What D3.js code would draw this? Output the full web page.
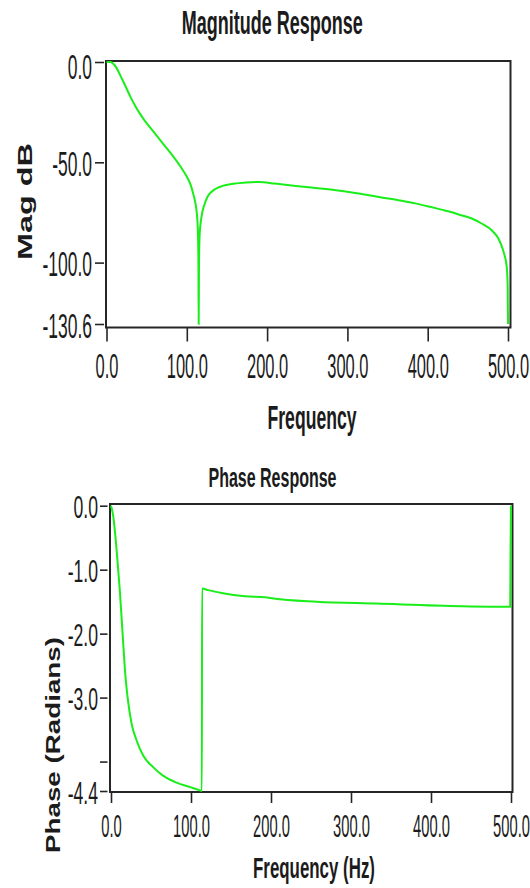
<!DOCTYPE html>
<html>
<head>
<meta charset="utf-8">
<script src="https://cdn.jsdelivr.net/npm/d3@7"></script>
<style>
body { margin: 0; background: #fff; }
text { font-family: "Liberation Sans", Arial, sans-serif; fill: #1b1b1b; }
</style>
</head>
<body>
<div id="chart"></div>
<script>
// magnitude response (Hz / dB)
var magFreq = [0, 5, 10, 20, 30, 36, 42, 48, 55, 62, 72, 83, 92, 99, 105, 108, 111, 112.6, 113.8, 114.5, 114.8, 115.2, 116, 118, 122,
    126, 130.5, 141, 162, 190, 209.5, 255, 288, 317.6, 342.5, 365, 386, 403, 417, 430, 442, 455, 467, 480, 488, 494, 498.4, 499.6, 500];
var magDb = [0, 0, -1.5, -9, -17.5, -22, -26, -29.5, -33, -36.5, -41.5, -47, -52, -56.5, -61.5, -65.7, -71, -76, -84, -100, -130.6,
    -100, -86, -78, -71, -67, -64.8, -62.3, -60.5, -59.8, -60.6, -62.6, -64, -65.8, -67.5, -69, -70.6, -72.2, -73.6, -74.9, -76.4, -78,
    -80.5, -84, -88, -94, -102, -112, -130.6];
var magTicks = [0, -50, -100, -130.6];
var magTickLabels = ['0.0', '-50.0', '-100.0', '-130.6'];

// phase response (Hz / radians)
var phaseFreq = [0, 2.9, 7, 11, 15, 17.5, 20.8, 25.8, 32, 40.4, 53, 65, 82, 98.8, 111, 113.6, 113.8, 121.6, 140, 167.5, 192.5,
    203, 257, 332, 438, 499, 499.4, 500];
var phaseRad = [0, -0.17, -0.69, -1.32, -2.1, -2.58, -3.0, -3.41, -3.67, -3.91, -4.09, -4.22, -4.33, -4.40, -4.45, -4.46, -1.295,
    -1.32, -1.37, -1.415, -1.43, -1.45, -1.50, -1.53, -1.57, -1.58, -0.77, 0];
var phaseTicks = [0, -1, -2, -3, -4, -4.46];
var phaseTickLabels = ['0.0', '-1.0', '-2.0', '-3.0', '', '-4.4'];

var freqTicks = [0, 100, 200, 300, 400, 500];
var freqTickLabels = ['0.0', '100.0', '200.0', '300.0', '400.0', '500.0'];

var svg = d3.select('#chart')
    .append('svg')
    .attr('width', 530)
    .attr('height', 888);

function drawPlot(o) {
    var x = d3.scaleLinear().domain([0, 500]).range(o.xRange);
    var y = d3.scaleLinear().domain(o.yDomain).range(o.yRange);
    var f = o.frame;

    svg.append('rect')
        .attr('x', f[0]).attr('y', f[1])
        .attr('width', f[2] - f[0]).attr('height', f[3] - f[1])
        .attr('fill', 'none')
        .attr('stroke', '#262626')
        .attr('stroke-width', 2);

    // x axis
    var xAxis = svg.append('g')
        .attr('transform', `translate(0, ${f[3]})`)
        .call(d3.axisBottom(x).tickValues(freqTicks).tickFormat((d, i) => freqTickLabels[i]).tickSize(o.xTick));
    xAxis.select('.domain').remove();
    xAxis.selectAll('line').attr('stroke', '#262626').attr('stroke-width', 1.6);
    xAxis.selectAll('text')
        .attr('y', null).attr('dy', null)
        .attr('transform', `translate(0, ${o.xLabelY}) scale(${o.xK}, 1)`)
        .style('font-size', o.font + 'px');

    // y axis
    var yAxis = svg.append('g')
        .attr('transform', `translate(${o.yAxisX}, 0)`)
        .call(d3.axisLeft(y).tickValues(o.ticks).tickFormat((d, i) => o.tickLabels[i]).tickSize(o.yTick));
    yAxis.select('.domain').remove();
    yAxis.selectAll('line').attr('stroke', '#262626').attr('stroke-width', 1.6);
    yAxis.selectAll('text')
        .attr('x', null).attr('dy', null)
        .attr('transform', function (d) {
            var dy = Math.max(o.yLabelDy, o.yLabelMin - y(d));
            return `translate(${-o.yLabelGap}, ${dy}) scale(${o.yK}, 1)`;
        })
        .style('font-size', o.font + 'px');

    var line = d3.line()
        .curve(d3.curveMonotoneX)
        .x(i => x(o.fx[i]))
        .y(i => y(o.fy[i]));

    svg.append('path')
        .datum(d3.range(o.fx.length))
        .attr('d', line)
        .attr('fill', 'none')
        .attr('stroke', '#1aee1a')
        .attr('stroke-width', 2);
}

function label(txt, x, y, size, len, rotate) {
    svg.append('text')
        .attr('transform', `translate(${x}, ${y})` + (rotate ? ' rotate(-90)' : ''))
        .attr('text-anchor', 'middle')
        .attr('textLength', len)
        .attr('lengthAdjust', 'spacingAndGlyphs')
        .style('font-size', size + 'px')
        .style('font-weight', 'bold')
        .text(txt);
}

drawPlot({
    fx: magFreq, fy: magDb,
    xRange: [106.5, 508], yDomain: [-130.6, 0], yRange: [324, 62],
    frame: [106, 61, 510.5, 327.5],
    ticks: magTicks, tickLabels: magTickLabels,
    xTick: 14, xLabelY: 50.5, xK: 0.47,
    yAxisX: 104, yTick: 9, yLabelGap: 12, yLabelDy: 13, yLabelMin: 78, yK: 0.5,
    font: 35
});

drawPlot({
    fx: phaseFreq, fy: phaseRad,
    xRange: [111, 511], yDomain: [-4.46, 0], yRange: [791, 505.7],
    frame: [110, 504, 512.5, 792],
    ticks: phaseTicks, tickLabels: phaseTickLabels,
    xTick: 11, xLabelY: 44.7, xK: 0.46,
    yAxisX: 107.5, yTick: 7.5, yLabelGap: 9.5, yLabelDy: 12, yLabelMin: 0, yK: 0.55,
    font: 32
});

label('Magnitude Response', 272.3, 34, 34, 181);
label('Frequency', 312, 429, 34, 89);
label('Phase Response', 272.5, 486.7, 28, 128);
label('Frequency (Hz)', 314, 878, 29, 122);
label('Mag dB', 32, 201.5, 21, 117, true);
label('Phase (Radians)', 60, 745, 21, 216, true);
</script>
</body>
</html>
